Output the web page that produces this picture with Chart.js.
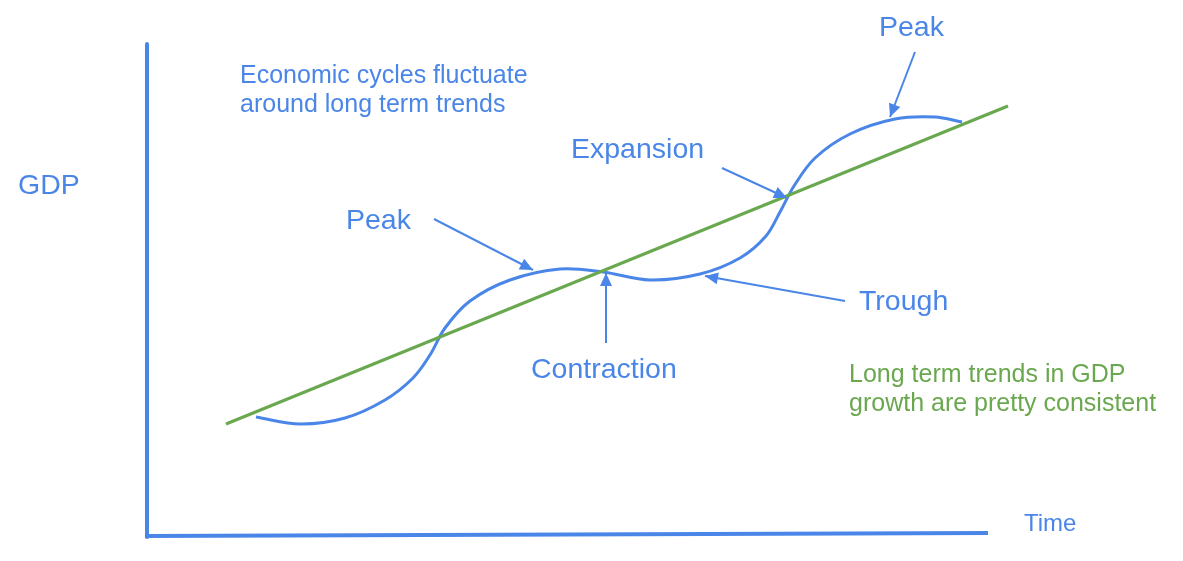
<!DOCTYPE html>
<html>
<head>
<meta charset="utf-8">
<script src="https://cdn.jsdelivr.net/npm/chart.js@4/dist/chart.umd.min.js"></script>
<style>
  html, body { margin: 0; padding: 0; background: #ffffff; }
  #wrap { width: 1183px; height: 561px; }
</style>
</head>
<body>
<div id="wrap"><canvas id="cycleChart" width="1183" height="561"></canvas></div>
<script>
"use strict";

const BLUE = "#4a86e8";
const GREEN = "#6aa84f";

// business cycle curve (x = time, y = gdp, screen-like units)
const cycleX = [256, 300, 345, 385, 413, 430, 445, 470, 510, 560, 603, 650, 700, 740, 766, 780, 794, 815, 850, 895, 935, 962];
const cycleY = [417, 424, 418, 400, 378, 355, 328, 301, 280, 269, 272, 280, 274, 258, 236, 212, 186, 158, 134, 119, 117, 122];

// long term trend
const trendX = [226, 1008];
const trendY = [424, 106];

// hand drawn axes
const yAxisX = [147, 147];
const yAxisY = [44, 537];
const xAxisX = [145, 988];
const xAxisY = [536, 533];

// callout arrows: tail -> head
const arrowFromX = [915, 722, 434, 606, 845];
const arrowFromY = [52, 168, 219, 343, 301];
const arrowToX = [890, 787, 533, 606, 705];
const arrowToY = [117, 198, 270, 273, 276];

// text notes
const noteText = ["Peak", "Expansion", "Peak", "Contraction", "Trough", "GDP", "Time",
  "Economic cycles fluctuate", "around long term trends",
  "Long term trends in GDP", "growth are pretty consistent"];
const noteX = [879, 571, 346, 531, 859, 18, 1024, 240, 240, 849, 849];
const noteY = [36, 158, 229, 378, 310, 194, 531, 83, 112, 382, 411];
const noteSize = [28.5, 28.5, 28.5, 28.5, 28.5, 28.5, 24, 25, 25, 25, 25];
const noteColor = [BLUE, BLUE, BLUE, BLUE, BLUE, BLUE, BLUE, BLUE, BLUE, GREEN, GREEN];

function toPoints(xs, ys) {
  return xs.map((x, i) => ({ x: x, y: ys[i] }));
}

function lineSet(points, color, width, extra) {
  return Object.assign({
    type: "line",
    data: points,
    borderColor: color,
    backgroundColor: color,
    borderWidth: width,
    pointRadius: 0,
    showLine: true,
    fill: false,
    tension: 0,
    borderCapStyle: "butt",
  }, extra || {});
}

const datasets = [
  lineSet(toPoints(trendX, trendY), GREEN, 3),
  lineSet(toPoints(cycleX, cycleY), BLUE, 3, { tension: 0.35 }),
  lineSet(toPoints(yAxisX, yAxisY), BLUE, 4),
  lineSet(toPoints(xAxisX, xAxisY), BLUE, 4),
];

arrowFromX.forEach((fx, i) => {
  datasets.push(lineSet(
    toPoints([fx, arrowToX[i]], [arrowFromY[i], arrowToY[i]]),
    BLUE, 2, { isArrow: true }
  ));
});

const arrowHeads = {
  id: "arrowHeads",
  afterDatasetsDraw(chart) {
    const ctx = chart.ctx;
    const xs = chart.scales.x;
    const ys = chart.scales.y;
    chart.data.datasets.forEach((ds) => {
      if (!ds.isArrow) return;
      const a = ds.data[0];
      const b = ds.data[1];
      const x0 = xs.getPixelForValue(a.x), y0 = ys.getPixelForValue(a.y);
      const x1 = xs.getPixelForValue(b.x), y1 = ys.getPixelForValue(b.y);
      const ang = Math.atan2(y1 - y0, x1 - x0);
      const len = 13, half = 6;
      ctx.save();
      ctx.fillStyle = BLUE;
      ctx.beginPath();
      ctx.moveTo(x1, y1);
      ctx.lineTo(x1 - len * Math.cos(ang) + half * Math.sin(ang), y1 - len * Math.sin(ang) - half * Math.cos(ang));
      ctx.lineTo(x1 - len * Math.cos(ang) - half * Math.sin(ang), y1 - len * Math.sin(ang) + half * Math.cos(ang));
      ctx.closePath();
      ctx.fill();
      ctx.restore();
    });
  },
};

const notes = {
  id: "notes",
  afterDraw(chart) {
    const ctx = chart.ctx;
    const xs = chart.scales.x;
    const ys = chart.scales.y;
    ctx.save();
    ctx.textAlign = "left";
    ctx.textBaseline = "alphabetic";
    noteText.forEach((t, i) => {
      ctx.font = noteSize[i] + "px 'Liberation Sans', Arial, sans-serif";
      ctx.fillStyle = noteColor[i];
      ctx.fillText(t, xs.getPixelForValue(noteX[i]), ys.getPixelForValue(noteY[i]));
    });
    ctx.restore();
  },
};

document.addEventListener("DOMContentLoaded", () => {
  const ctx = document.getElementById("cycleChart").getContext("2d");
  new Chart(ctx, {
    type: "scatter",
    data: { datasets: datasets },
    options: {
      responsive: false,
      animation: false,
      devicePixelRatio: 1,
      layout: { padding: 0 },
      plugins: {
        legend: { display: false },
        tooltip: { enabled: false },
      },
      scales: {
        x: { type: "linear", min: 0, max: 1183, display: false },
        y: { type: "linear", min: 0, max: 561, reverse: true, display: false },
      },
      elements: { line: { borderJoinStyle: "round" } },
    },
    plugins: [arrowHeads, notes],
  });
});
</script>
</body>
</html>
